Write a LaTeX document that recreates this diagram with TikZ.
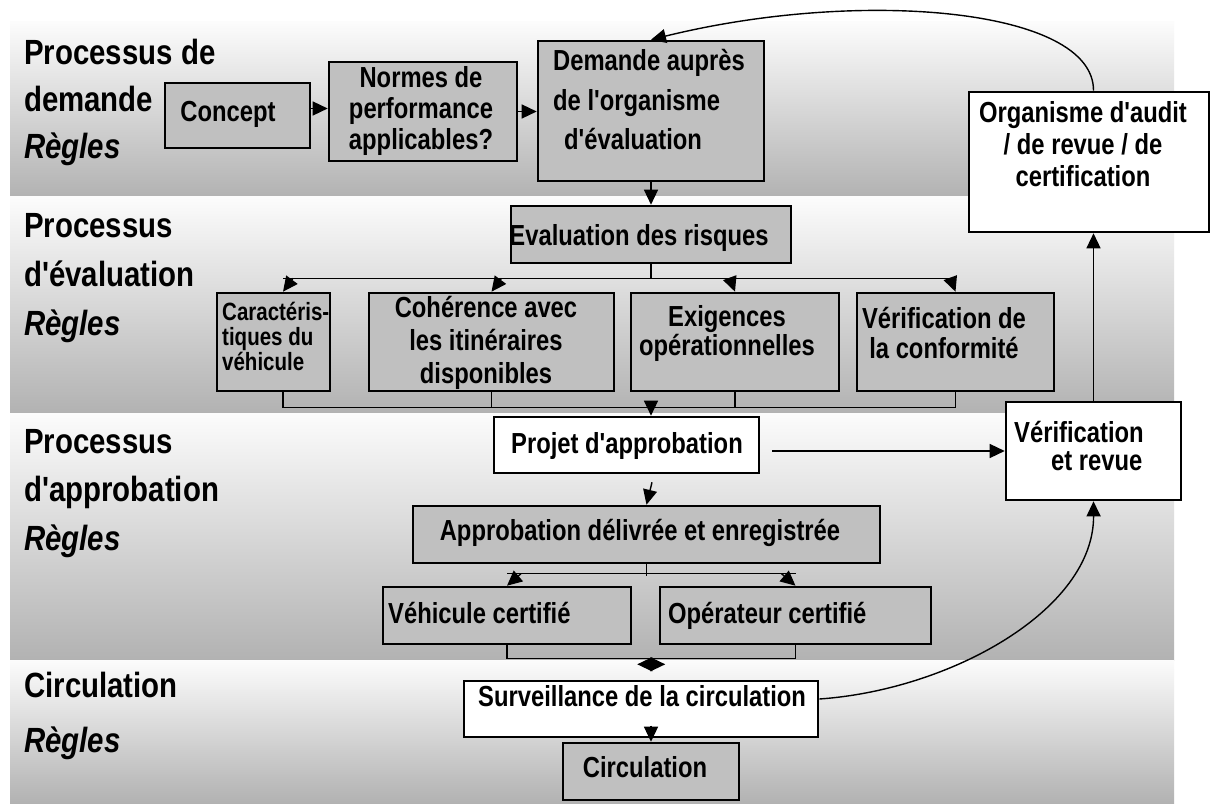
\documentclass[tikz,border=0pt]{standalone}
\usepackage{fontspec}
\setmainfont{Liberation Sans}
\newfontfamily\narrowf{Liberation Sans}[FakeStretch=0.82]
\newfontfamily\titlef{Liberation Sans}[FakeStretch=0.84]
\usetikzlibrary{arrows.meta,calc}
\definecolor{boxgray}{RGB}{192,192,192}
\definecolor{bandbot}{RGB}{178,178,178}
\definecolor{bandtop}{RGB}{252,252,252}
\begin{document}
\begin{tikzpicture}[x=1pt,y=-1pt,
  band/.style={top color=bandtop, bottom color=bandbot},
  gbox/.style={draw, line width=2.6pt, fill=boxgray, rectangle, inner sep=0pt},
  wbox/.style={draw, line width=2.6pt, fill=white, rectangle, inner sep=0pt},
  txt/.style={inner sep=0pt, font=\narrowf\bfseries\fontsize{29}{#1}\selectfont},
  txt/.default=33,
  ttl/.style={inner sep=0pt, anchor=base west, align=left, font=\titlef\bfseries\fontsize{35}{#1}\selectfont},
  ln/.style={line width=1.4pt},
  arr/.style={line width=1.4pt, -{Triangle[length=15pt,width=14pt]}}]
\useasboundingbox (0,0) rectangle (1210,805);
\fill[white] (0,0) rectangle (1210,805);
% bands
\shade[band] (10,22) rectangle (1174,197);
\shade[band] (10,197) rectangle (1174,413);
\shade[band] (10,413) rectangle (1174,660);
\shade[band] (10,660) rectangle (1174,803);
% titles (anchor = baseline of last line)
\node[ttl=47] (title1) at (24,159) {Processus de\\demande\\\textit{Règles}};
\node[ttl=49] (title2) at (24,335) {Processus\\d'évaluation\\\textit{Règles}};
\node[ttl=48.5] (title3) at (24,550) {Processus\\d'approbation\\\textit{Règles}};
\node[ttl=55] (title4) at (24,752) {Circulation\\\textit{Règles}};
% boxes
\node[gbox, minimum width=145pt, minimum height=65pt] (concept) at (237.5,115.5) {};
\node[gbox, minimum width=188pt, minimum height=99pt] (normes) at (423,111.5) {};
\node[gbox, minimum width=226pt, minimum height=140pt] (demande) at (651,111) {};
\node[wbox, minimum width=240pt, minimum height=140pt] (org) at (1089,162) {};
\node[gbox, minimum width=280pt, minimum height=57pt] (evalr) at (651,234.5) {};
\node[gbox, minimum width=113pt, minimum height=98pt] (carac) at (273.5,342) {};
\node[gbox, minimum width=245pt, minimum height=98pt] (coher) at (491.5,342) {};
\node[gbox, minimum width=208pt, minimum height=98pt] (exig) at (735,342) {};
\node[gbox, minimum width=197pt, minimum height=98pt] (verifc) at (955.5,342) {};
\node[wbox, minimum width=265pt, minimum height=56pt] (projet) at (626.5,445) {};
\node[wbox, minimum width=175pt, minimum height=98pt] (verif) at (1093.5,451) {};
\node[gbox, minimum width=467pt, minimum height=57pt] (approb) at (646.5,534.5) {};
\node[gbox, minimum width=248pt, minimum height=57pt] (vehic) at (507,615.5) {};
\node[gbox, minimum width=271pt, minimum height=57pt] (operat) at (795.5,615.5) {};
\node[wbox, minimum width=354pt, minimum height=56pt] (surv) at (641,709) {};
\node[gbox, minimum width=176pt, minimum height=57pt] (circ) at (651,771.5) {};
% texts (multi-line: anchor = baseline of last line)
\node[txt, anchor=base] (concept-t) at (228,122) {Concept};
\node[txt=31, anchor=base, align=center] (normes-t) at (421,150) {Normes de\\performance\\applicables?};
\node[txt=39.5, anchor=base west, align=left] (demande-t) at (553,150) {Demande auprès\\de l'organisme\\\hspace*{11pt}d'évaluation};
\node[txt=32, anchor=base, align=center] (org-t) at (1083,187) {Organisme d'audit\\/ de revue / de\\certification};
\node[txt, anchor=base] (evalr-t) at (639,245) {Evaluation des risques};
\node[inner sep=0pt, anchor=base west, align=left, font=\narrowf\bfseries\fontsize{25}{25}\selectfont] (carac-t) at (222,370) {Caractéris-\\tiques du\\véhicule};
\node[txt=33, anchor=base, align=center] (coher-t) at (486,383) {Cohérence avec\\les itinéraires\\disponibles};
\node[txt=27, anchor=base, align=center] (exig-t) at (727,355) {Exigences\\opérationnelles};
\node[txt=30, anchor=base, align=center] (verifc-t) at (944,358) {Vérification de\\la conformité};
\node[txt, anchor=base] (projet-t) at (627,453) {Projet d'approbation};
\node[txt=28, anchor=base west, align=left] (verif-t) at (1014,470) {Vérification\\\hspace*{37pt}et revue};
\node[txt, anchor=base] (approb-t) at (640,540) {Approbation délivrée et enregistrée};
\node[txt, anchor=base west] (vehic-t) at (388,623) {Véhicule certifié};
\node[txt, anchor=base west] (operat-t) at (668,623) {Opérateur certifié};
\node[txt, anchor=base west] (surv-t) at (478,706) {Surveillance de la circulation};
\node[txt, anchor=base] (circ-t) at (645,777) {Circulation};
% connectors band 1
\coordinate (c1) at ($(concept.east)+(0,-7)$);
\draw[arr] (c1) -- (c1 -| normes.west);
\draw[arr] (normes.east) -- (normes.east -| demande.west);
\draw[arr] (demande.south) -- (evalr.north);
% evaluation branches
\coordinate (bus1) at ($(evalr.south)+(0,14)$);
\draw[ln] (evalr.south) -- (bus1);
\draw[ln] ($(carac.north |- bus1)+(9.5,0)$) -- (verifc.north |- bus1);
\draw[arr] ($(carac.north |- bus1)+(19.5,0)$) -- ($(carac.north)+(9.5,0)$);
\draw[arr] ($(coher.north |- bus1)+(10,0)$) -- (coher.north);
\draw[arr] ($(exig.north |- bus1)+(-5,0)$) -- (exig.north);
\draw[arr] ($(verifc.north |- bus1)+(-5,0)$) -- (verifc.north);
% merge to projet
\coordinate (bus2) at ($(evalr.south |- verifc.south)+(0,15)$);
\draw[ln] ($(carac.south)+(9.5,0)$) |- ($(verifc.south)+(0,15)$) -- (verifc.south);
\draw[ln] (coher.south) -- ++(0,15);
\draw[ln] (exig.south) -- ++(0,15);
\draw[arr] (bus2) -- (bus2 |- projet.north);
% approbation
\draw[arr] ($(projet.east |- verif.west)+(12,0)$) -- (verif.west);
\draw[arr] ($(projet.south)+(25.5,8)$) -- (approb.north);
\draw[ln] (approb.south) -- ++(0,12);
\draw[ln] ($(vehic.north)+(0,-12)$) -- ($(operat.north)+(0,-12)$);
\draw[arr] ($(vehic.north)+(14,-12)$) -- (vehic.north);
\draw[arr] ($(operat.north)+(-14,-12)$) -- (operat.north);
\draw[ln] (vehic.south) -- ++(0,13) -| (operat.south);
\coordinate (mc) at ($(vehic.south)!0.5!(operat.south)+(0,19)$);
\draw[arr] ($(mc)+(-2,0)$) -- ++(-12,0);
\draw[arr] ($(mc)+(2,0)$) -- ++(12,0);
% circulation
\draw[arr] ($(circ.north)+(0,-16)$) -- (circ.north);
\draw[arr] ($(surv.east)+(0,-10)$) .. controls (950,690) and (1094,610) .. (verif.south);
\draw[arr] (verif.north) -- (verif.north |- org.south);
\draw[arr] (verif.north |- org.north) .. controls (1094,8) and (860,-12) .. (demande.north);
\end{tikzpicture}
\end{document}
